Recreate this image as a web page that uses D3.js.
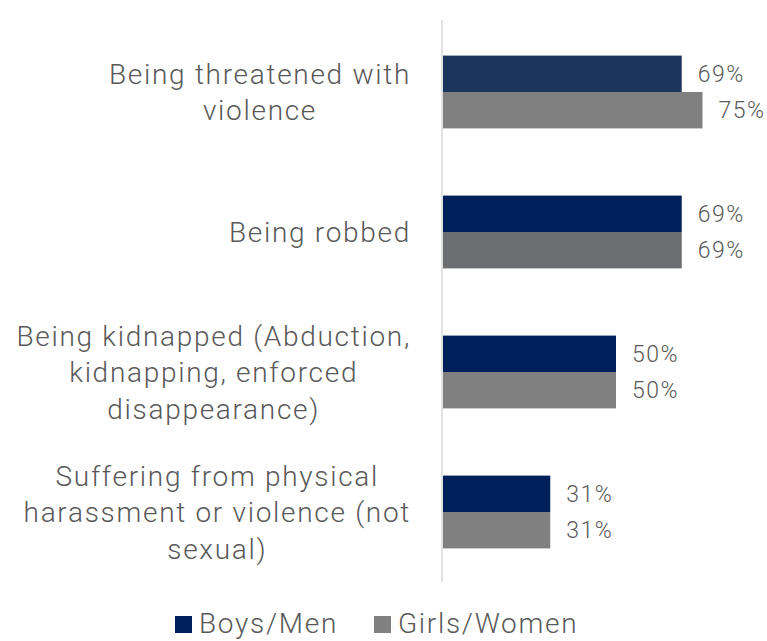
<!DOCTYPE html>
<html>
<head>
<meta charset="utf-8">
<script src="https://cdn.jsdelivr.net/npm/d3@7"></script>
<style>
  body { margin: 0; background: #fff; }
  text { font-family: Roboto, "Noto Sans", sans-serif; fill: #595959; font-weight: 300; }
</style>
</head>
<body>
<script>
// data
var categories = [
    ["Being threatened with", "violence"],
    ["Being robbed"],
    ["Being kidnapped (Abduction,", "kidnapping, enforced", "disappearance)"],
    ["Suffering from physical", "harassment or violence (not", "sexual)"]
];
var boysValues = [69, 69, 50, 31];
var girlsValues = [75, 69, 50, 31];
var seriesNames = ["Boys/Men", "Girls/Women"];

// per-bar colours as seen in the picture
var boysColors = ["#1b355e", "#00205b", "#00205b", "#00205b"];
var girlsColors = ["#808080", "#6d6e71", "#808080", "#808080"];
var legendColors = ["#00205b", "#808080"];

var svgWidth = 767;
var svgHeight = 641;

var svg = d3.select("body")
    .append("svg")
    .attr("width", svgWidth)
    .attr("height", svgHeight);

var xScale = d3.scaleLinear()
    .domain([0, 100])
    .range([443, 789]);

var yScale = d3.scaleBand()
    .domain(d3.range(categories.length))
    .range([22, 582])
    .paddingInner(0.48)
    .paddingOuter(0.24);

var barH = yScale.bandwidth() / 2;

// axis line
svg.append("line")
    .attr("x1", xScale(0) - 1)
    .attr("x2", xScale(0) - 1)
    .attr("y1", 20)
    .attr("y2", 582)
    .attr("stroke", "#d9d9d9")
    .attr("stroke-width", 1.5);

var groups = svg.selectAll(".grp")
    .data(categories)
    .enter()
    .append("g")
    .attr("class", "grp");

// boys bars
groups.append("rect")
    .attr("x", xScale(0))
    .attr("y", (d, i) => yScale(i))
    .attr("width", (d, i) => xScale(boysValues[i]) - xScale(0))
    .attr("height", barH)
    .attr("fill", (d, i) => boysColors[i]);

// girls bars
groups.append("rect")
    .attr("x", xScale(0))
    .attr("y", (d, i) => yScale(i) + barH)
    .attr("width", (d, i) => xScale(girlsValues[i]) - xScale(0))
    .attr("height", barH)
    .attr("fill", (d, i) => girlsColors[i]);

// value labels
groups.append("text")
    .attr("x", (d, i) => xScale(boysValues[i]) + 16)
    .attr("y", (d, i) => yScale(i) + barH / 2)
    .attr("dy", "0.36em")
    .style("font-size", "23px")
    .style("letter-spacing", "1.5px")
    .text((d, i) => boysValues[i] + "%");

groups.append("text")
    .attr("x", (d, i) => xScale(girlsValues[i]) + 16)
    .attr("y", (d, i) => yScale(i) + barH * 1.5)
    .attr("dy", "0.36em")
    .style("font-size", "23px")
    .style("letter-spacing", "1.5px")
    .text((d, i) => girlsValues[i] + "%");

// category labels: lines centred on each other, block right aligned
var lineH = 36.5;
var labelRight = 411;
groups.each(function(lines, i) {
    var g = d3.select(this);
    var t = g.append("text")
        .style("font-size", "28px")
        .style("letter-spacing", "1.7px")
        .attr("text-anchor", "middle");
    var cy = yScale(i) + yScale.bandwidth() / 2;
    var top = cy - (lines.length - 1) * lineH / 2;
    lines.forEach(function(l, j) {
        t.append("tspan")
            .attr("x", 0)
            .attr("y", top + j * lineH)
            .attr("dy", "0.36em")
            .text(l);
    });
    var w = t.node().getBBox().width;
    t.selectAll("tspan").attr("x", labelRight - w / 2);
});

// legend
var legend = svg.append("g");
var lx = 175;
seriesNames.forEach(function(name, i) {
    var item = legend.append("g").attr("transform", "translate(" + lx + ",0)");
    item.append("rect")
        .attr("x", 0)
        .attr("y", 616)
        .attr("width", 17)
        .attr("height", 17)
        .attr("fill", legendColors[i]);
    var t = item.append("text")
        .attr("x", 24)
        .attr("y", 623)
        .attr("dy", "0.36em")
        .style("font-size", "28px")
        .style("letter-spacing", "1.7px")
        .text(name);
    lx += 24 + t.node().getComputedTextLength() + 36;
});
</script>
</body>
</html>
